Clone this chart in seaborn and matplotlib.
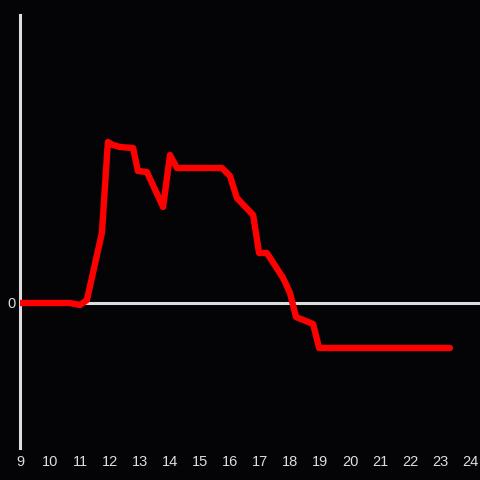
import matplotlib
matplotlib.use("Agg")
import matplotlib.pyplot as plt
import seaborn as sns
import pandas as pd

# hour of day vs value
hours = [9.0, 10.67, 11.0, 11.23, 11.73, 11.93, 12.1, 12.33, 12.77, 12.93,
         13.23, 13.77, 14.0, 14.23, 15.73, 16.0, 16.23, 16.77, 16.97, 17.23,
         17.77, 18.0, 18.2, 18.77, 18.97, 23.33]
values = [0, 0, -2, 3, 70, 161, 158, 156, 155, 132,
          131, 96, 148, 135, 135, 127, 105, 88, 50, 50,
          25, 10, -14, -21, -45, -45]
xticks = list(range(9, 25))

bg = "#040306"
fg = "#dddddd"

sns.set_style("dark")
plt.rcParams["font.family"] = ["Liberation Sans", "DejaVu Sans"]

df = pd.DataFrame({"hour": hours, "value": values})

fig = plt.figure(figsize=(4.8, 4.8), dpi=100, facecolor=bg)
ax = fig.add_axes([20 / 480, 32 / 480, 460 / 480, 433 / 480])
ax.set_facecolor(bg)

ax.axhline(0, color=fg, lw=2.2, zorder=1)
sns.lineplot(data=df, x="hour", y="value", ax=ax, color="#ff0000",
             linewidth=4.6, zorder=3, sort=False)

ax.set_xlim(9, 9 + 460 / 30)
ax.set_ylim(-145, 288)
ax.set_xticks(xticks)
ax.set_yticks([0])
ax.set_xlabel("")
ax.set_ylabel("")
ax.grid(False)
for s in ["top", "right", "bottom"]:
    ax.spines[s].set_visible(False)
ax.spines["left"].set_color(fg)
ax.spines["left"].set_linewidth(2.2)
ax.tick_params(axis="both", length=0, colors=fg, labelsize=10.5)
ax.tick_params(axis="x", pad=5)
ax.tick_params(axis="y", pad=3)

fig.savefig("out.png", dpi=100, facecolor=bg)
